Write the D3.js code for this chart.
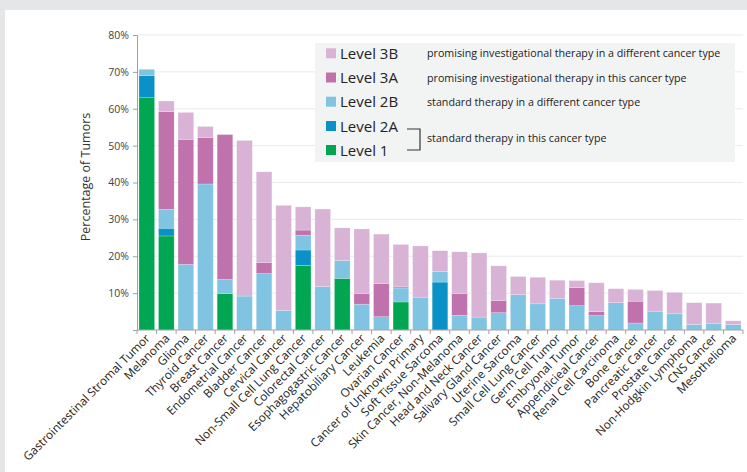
<!DOCTYPE html>
<html>
<head>
<meta charset="utf-8">
<script src="https://cdn.jsdelivr.net/npm/d3@7"></script>
<style>
  html, body { margin: 0; padding: 0; background: #e5e6e8; }
  svg { display: block; }
  text { font-family: "Open Sans", "Noto Sans", sans-serif; }
</style>
</head>
<body>
<svg id="chart" width="747" height="472"></svg>
<script>
// Tumor types, ordered by total share of actionable alterations
const categories = [
  "Gastrointestinal Stromal Tumor", "Melanoma", "Glioma", "Thyroid Cancer", "Breast Cancer",
  "Endometrial Cancer", "Bladder Cancer", "Cervical Cancer", "Non-Small Cell Lung Cancer",
  "Colorectal Cancer", "Esophagogastric Cancer", "Hepatobiliary Cancer", "Leukemia",
  "Ovarian Cancer", "Cancer of Unknown Primary", "Soft Tissue Sarcoma",
  "Skin Cancer, Non-Melanoma", "Head and Neck Cancer", "Salivary Gland Cancer",
  "Uterine Sarcoma", "Small Cell Lung Cancer", "Germ Cell Tumor", "Embryonal Tumor",
  "Appendicieal Cancer", "Renal Cell Carcinoma", "Bone Cancer", "Pancreatic Cancer",
  "Prostate Cancer", "Non-Hodgkin Lymphoma", "CNS Cancer", "Mesothelioma"
];

// Percentage of tumors whose highest level of evidence is each level
const level1  = [63.0, 25.5, 0, 0, 9.9, 0, 0, 0, 17.5, 0, 14.0, 0, 0, 7.6, 0, 0, 0, 0, 0, 0, 0, 0, 0, 0, 0, 0, 0, 0, 0, 0, 0];
const level2A = [6.0, 2.1, 0, 0, 0, 0, 0, 0, 4.2, 0, 0, 0, 0, 0, 0, 13.0, 0, 0, 0, 0, 0, 0, 0, 0, 0, 0, 0, 0, 0, 0, 0];
const level2B = [1.7, 5.1, 17.8, 39.6, 3.8, 9.2, 15.3, 5.3, 4.0, 11.8, 4.8, 7.0, 3.6, 3.8, 8.9, 2.9, 4.0, 3.5, 4.7, 9.6, 7.1, 8.6, 6.6, 3.9, 7.4, 1.9, 5.1, 4.4, 1.5, 1.7, 1.5];
const level3A = [0, 26.5, 33.9, 12.6, 39.3, 0, 3.0, 0, 1.4, 0, 0, 2.9, 9.0, 0.3, 0, 0, 5.9, 0, 3.3, 0, 0, 0, 4.9, 1.1, 0, 5.9, 0, 0, 0, 0, 0];
const level3B = [0, 2.9, 7.3, 3.0, 0, 42.2, 24.6, 28.5, 6.3, 21.0, 8.9, 17.5, 13.4, 11.5, 13.9, 5.6, 11.3, 17.4, 9.4, 4.9, 7.2, 4.9, 1.9, 7.8, 3.8, 3.2, 5.6, 5.8, 5.9, 5.6, 1.0];

const yTicks = [0, 10, 20, 30, 40, 50, 60, 70, 80];

// Stack order: bottom to top
const levelKeys   = ["L1", "L2A", "L2B", "L3A", "L3B"];
const levelColors = { L1: "#00a651", L2A: "#0a92c8", L2B: "#80c4e2", L3A: "#c072ad", L3B: "#d9b3d5" };
const levelLabels = { L1: "Level 1", L2A: "Level 2A", L2B: "Level 2B", L3A: "Level 3A", L3B: "Level 3B" };
const legendOrder = ["L3B", "L3A", "L2B", "L2A", "L1"];
const legendDescriptions = [
  "promising investigational therapy in a different cancer type",
  "promising investigational therapy in this cancer type",
  "standard therapy in a different cancer type",
  "standard therapy in this cancer type"
];

const rows = categories.map((c, i) => ({
  name: c, L1: level1[i], L2A: level2A[i], L2B: level2B[i], L3A: level3A[i], L3B: level3B[i]
}));

const svg = d3.select("#chart");
const W = 747, H = 472;

// Page frame
svg.append("rect").attr("width", W).attr("height", H).attr("fill", "#e5e6e8");
svg.append("rect").attr("x", 5).attr("y", 10).attr("width", W - 5).attr("height", H - 10).attr("fill", "#ffffff");

const plot = { left: 137, right: 743, top: 35, bottom: 330 };

const x = d3.scaleBand()
  .domain(categories)
  .range([plot.left, plot.right])
  .paddingInner(0.2)
  .paddingOuter(0.1);

const y = d3.scaleLinear().domain([0, 80]).range([plot.bottom, plot.top]);

// Horizontal gridlines
svg.append("g")
  .selectAll("line")
  .data(yTicks.filter(t => t > 0))
  .join("line")
  .attr("x1", plot.left).attr("x2", plot.right)
  .attr("y1", d => y(d)).attr("y2", d => y(d))
  .attr("stroke", "#ebebeb").attr("stroke-width", 1);

// Stacked bars
const stack = d3.stack().keys(levelKeys)(rows);
svg.append("g")
  .selectAll("g")
  .data(stack)
  .join("g")
  .attr("fill", s => levelColors[s.key])
  .selectAll("rect")
  .data(s => s.filter(d => d[1] - d[0] > 0))
  .join("rect")
  .attr("x", d => x(d.data.name))
  .attr("width", x.bandwidth())
  .attr("y", d => y(d[1]))
  .attr("height", d => y(d[0]) - y(d[1]))
  .attr("stroke", "#ffffff")
  .attr("stroke-opacity", 0.35)
  .attr("stroke-width", 0.6);

// Y axis
const yAxis = svg.append("g")
  .attr("transform", `translate(${plot.left},0)`)
  .call(d3.axisLeft(y).tickValues(yTicks).tickSize(4).tickPadding(4)
    .tickFormat(d => d === 0 ? "" : d + "%"));
yAxis.select(".domain").attr("stroke", "#a0a0a0");
yAxis.selectAll(".tick line").attr("stroke", "#a0a0a0");
yAxis.selectAll(".tick text")
  .attr("fill", "#444")
  .style("font-size", "10.5px")
  .style("font-family", "'Open Sans', sans-serif");

// X axis baseline with ticks at band boundaries
const xg = svg.append("g");
xg.append("line")
  .attr("x1", plot.left).attr("x2", plot.right)
  .attr("y1", plot.bottom).attr("y2", plot.bottom)
  .attr("stroke", "#a0a0a0");
const gap = x.step() - x.bandwidth();
const boundaries = categories.map(c => x(c) - gap / 2).concat([x(categories[categories.length - 1]) + x.bandwidth() + gap / 2]);
xg.selectAll("line.tk")
  .data(boundaries)
  .join("line")
  .attr("class", "tk")
  .attr("x1", d => d).attr("x2", d => d)
  .attr("y1", plot.bottom).attr("y2", plot.bottom + 4)
  .attr("stroke", "#a0a0a0");

// Rotated category labels
xg.selectAll("text")
  .data(categories)
  .join("text")
  .attr("transform", c => `translate(${x(c) + x.bandwidth() / 2 + 4},${plot.bottom + 9}) rotate(-45)`)
  .attr("text-anchor", "end")
  .attr("fill", "#222")
  .style("font-size", "11.8px")
  .text(c => c);

// Y axis title
svg.append("text")
  .attr("transform", `translate(90,177) rotate(-90)`)
  .attr("text-anchor", "middle")
  .attr("fill", "#333")
  .style("font-size", "12.5px")
  .text("Percentage of Tumors");

// Legend
const lg = svg.append("g");
lg.append("rect")
  .attr("x", 315).attr("y", 43).attr("width", 420).attr("height", 119)
  .attr("fill", "#f2f4f4");

const rowY = [53.3, 77.5, 101.7, 126, 150];
legendOrder.forEach((k, i) => {
  lg.append("rect")
    .attr("x", 326).attr("y", rowY[i] - 5).attr("width", 10).attr("height", 10)
    .attr("fill", levelColors[k]);
  lg.append("text")
    .attr("x", 340).attr("y", rowY[i] + 5.5)
    .attr("fill", "#222")
    .style("font-size", "15px")
    .text(levelLabels[k]);
});
legendDescriptions.forEach((t, i) => {
  const cy = i < 3 ? rowY[i] : (rowY[3] + rowY[4]) / 2;
  lg.append("text")
    .attr("x", 427).attr("y", cy + 4)
    .attr("fill", "#222")
    .style("font-size", "10.7px")
    .text(t);
});
// Bracket joining Level 2A and Level 1
lg.append("path")
  .attr("d", `M407,${rowY[3] + 3} H420 V${rowY[4]} H407`)
  .attr("fill", "none")
  .attr("stroke", "#333")
  .attr("stroke-width", 1.2);
</script>
</body>
</html>
